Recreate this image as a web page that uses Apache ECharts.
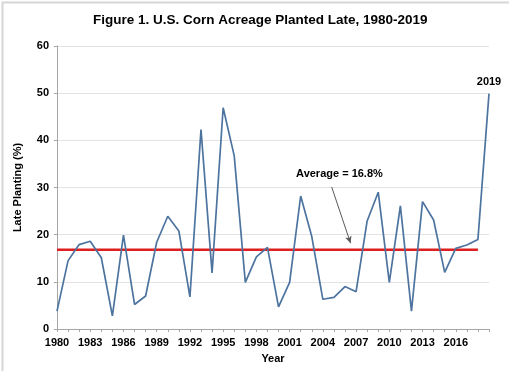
<!DOCTYPE html>
<html>
<head>
<meta charset="utf-8">
<script src="https://cdn.jsdelivr.net/npm/echarts@6/dist/echarts.min.js"></script>
<style>
html,body{margin:0;padding:0;background:#fff;}
#c{width:509px;height:371px;}
</style>
</head>
<body>
<div id="c"></div>
<script>
var years = [1980,1981,1982,1983,1984,1985,1986,1987,1988,1989,1990,1991,1992,1993,1994,1995,1996,1997,1998,1999,2000,2001,2002,2003,2004,2005,2006,2007,2008,2009,2010,2011,2012,2013,2014,2015,2016,2017,2018,2019];
var latePlanting = [3.8,14.5,17.9,18.6,15.1,2.8,19.9,5.2,7.0,18.4,23.9,20.8,6.8,42.3,11.9,46.9,36.7,9.9,15.3,17.3,4.7,9.9,28.2,19.6,6.3,6.7,9.0,7.9,22.9,29.0,9.9,26.1,3.8,27.0,23.1,12.0,17.1,17.8,19.0,49.9];
var averageValue = 16.8;
var averageYears = [1980, 2018];
var averageLabel = 'Average = 16.8%';
var arrowFrom = [2004.8, 30.1];
var arrowTo = [2006.5, 18.2];
var labelAt = [2005.5, 32.8];
var xTickStart = 1980, xTickEnd = 2019, xTickStep = 3;
var yTicks = [0,10,20,30,40,50,60];

var font = 'Liberation Sans, Arial, sans-serif';
var lineData = years.map(function(y,i){ return [y, latePlanting[i]]; });
var lastIdx = years.length - 1;
var avgData = averageYears.map(function(y){return [y, averageValue];});

var chart = echarts.init(document.getElementById('c'), null, {renderer:'canvas'});
chart.setOption({
  animation:false,
  backgroundColor:'#fff',
  title:{
    text:'Figure 1. U.S. Corn Acreage Planted Late, 1980-2019',
    top:8, left:88,
    textStyle:{fontFamily:font, fontWeight:'bold', fontSize:13.5, color:'#000'}
  },
  graphic:[{type:'rect', left:0, top:0, shape:{width:508, height:370}, style:{fill:'none', stroke:'#d6d6d6', lineWidth:2}, silent:true}],
  grid:{left:57, right:20, top:46, bottom:42},
  xAxis:{
    type:'value', min:xTickStart, max:xTickEnd, interval:xTickStep,
    name:'Year', nameLocation:'middle', nameGap:24,
    nameTextStyle:{fontFamily:font, fontWeight:'bold', fontSize:11, color:'#000'},
    axisLine:{show:true, lineStyle:{color:'#a6a6a6', width:1}},
    axisTick:{show:true, length:3, lineStyle:{color:'#a6a6a6'}},
    minorTick:{show:true, splitNumber:3, length:3, lineStyle:{color:'#a6a6a6'}},
    splitLine:{show:false},
    axisLabel:{showMaxLabel:false, margin:8, fontFamily:font, fontWeight:'bold', fontSize:11, color:'#000', formatter:function(v){return String(v);}}
  },
  yAxis:{
    type:'value', min:yTicks[0], max:yTicks[yTicks.length-1], interval:yTicks[1]-yTicks[0],
    name:'Late Planting (%)', nameLocation:'middle', nameGap:34, nameRotate:90,
    nameTextStyle:{fontFamily:font, fontWeight:'bold', fontSize:11, color:'#000'},
    axisLine:{show:true, lineStyle:{color:'#a6a6a6', width:1}},
    axisTick:{show:true, length:3, lineStyle:{color:'#a6a6a6'}},
    splitLine:{show:true, lineStyle:{color:'#e3e3e3', width:1}},
    axisLabel:{margin:8, fontFamily:font, fontWeight:'bold', fontSize:11, color:'#000'}
  },
  series:[
    {
      type:'line', data:lineData, showSymbol:false, symbol:'none',
      lineStyle:{color:'#4d739f', width:1.7}, z:3,
      markPoint:{
        silent:true, symbol:'circle', symbolSize:0,
        label:{show:true, position:'top', distance:6, formatter:String(years[lastIdx]), color:'#000', fontWeight:'bold', fontSize:11, fontFamily:font},
        data:[{coord:[years[lastIdx], latePlanting[lastIdx]]}]
      }
    },
    {
      type:'line', data:avgData, showSymbol:false, symbol:'none',
      lineStyle:{color:'#dd1f1f', width:2.5}, z:2,
      markLine:{
        silent:true, symbol:['none','arrow'], symbolSize:[5,7],
        lineStyle:{color:'#595959', width:1, type:'solid'},
        label:{show:false},
        data:[[{coord:arrowFrom},{coord:arrowTo}]]
      },
      markPoint:{
        silent:true, symbol:'circle', symbolSize:0,
        label:{show:true, position:'inside', formatter:averageLabel, color:'#000', fontWeight:'bold', fontSize:11, fontFamily:font},
        data:[{coord:labelAt}]
      }
    }
  ]
});
</script>
</body>
</html>
